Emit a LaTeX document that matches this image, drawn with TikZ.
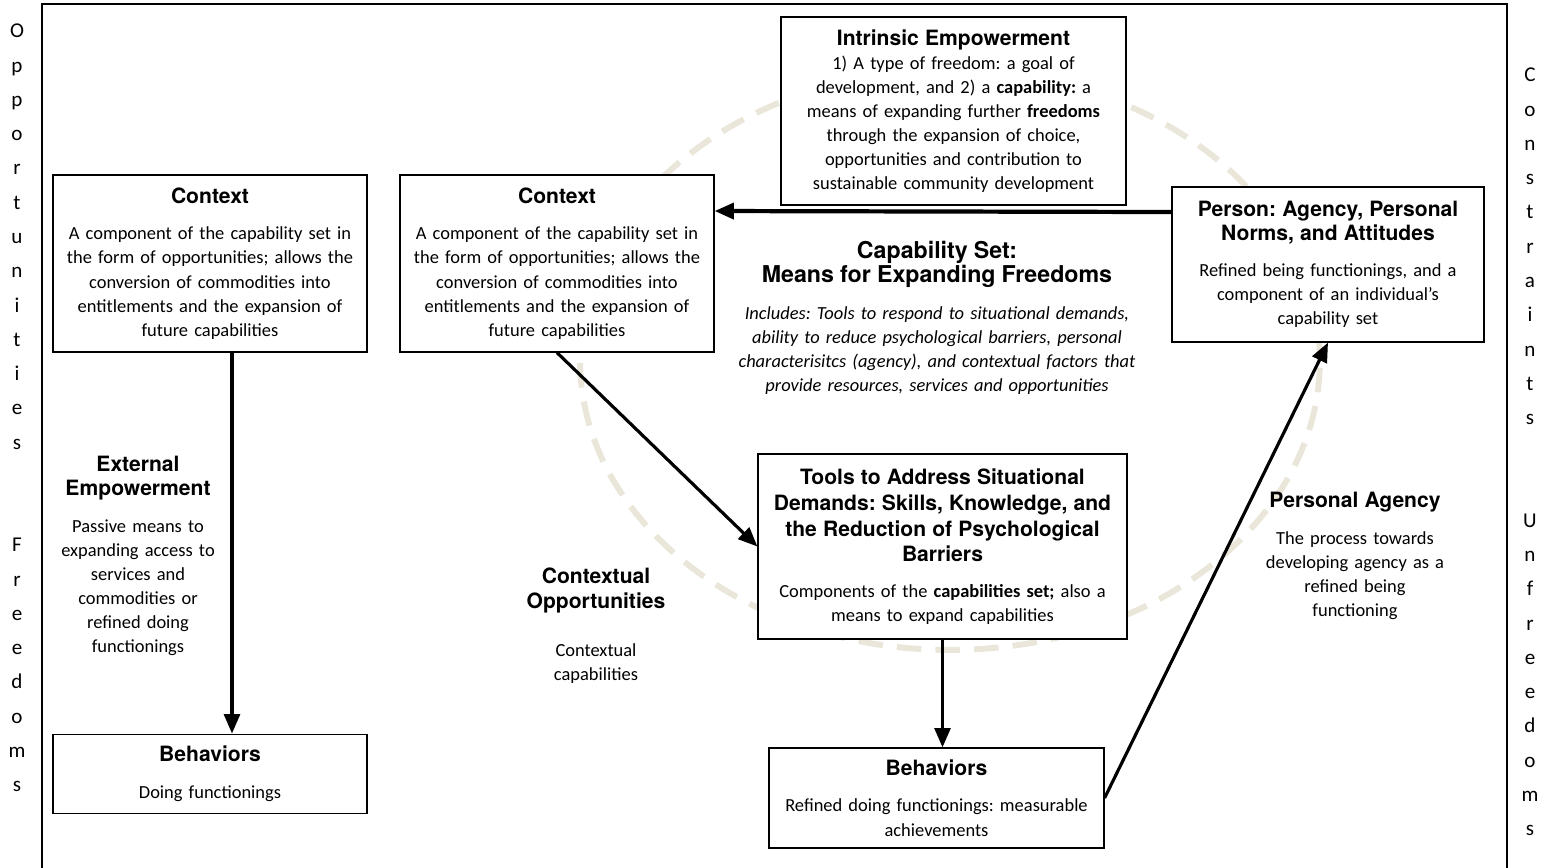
\documentclass[tikz,border=0pt]{standalone}
\usepackage{fontspec}
\setmainfont{Carlito}
\newfontfamily\hdfont{TeX Gyre Heros}
\usetikzlibrary{arrows.meta,positioning}
\definecolor{ringbeige}{RGB}{234,231,218}
\newcommand{\hd}[1]{{\hdfont\bfseries\fontsize{12}{15}\selectfont #1}}
\newcommand{\bighd}[1]{{\hdfont\bfseries\fontsize{13.2}{19.4}\selectfont #1}}
\frenchspacing

\begin{document}
\begin{tikzpicture}[x=0.02cm,y=-0.02cm,font=\fontsize{10.5}{13.7}\selectfont]
\tikzstyle{box}=[draw=black,line width=0.7pt,fill=white,align=center,inner sep=3pt]
\tikzstyle{free}=[align=center,inner sep=0pt]
\tikzstyle{sidetext}=[align=center,inner sep=0pt,font=\fontsize{12}{19.5}\selectfont]
\tikzstyle{arrow}=[line width=1.8pt,->,>={Triangle[length=11pt,width=9pt]}]
\useasboundingbox (0,0) rectangle (1553,867);
% frame and ring
\draw [line width=0.8pt] (42,4) rectangle (1507,900);
\draw [ringbeige,line width=3.4pt,dash pattern=on 14pt off 8pt] (950,360) ellipse [x radius=7.4cm,y radius=5.8cm];
% side words
\node [sidetext] (opp) at (17,408) {O\\p\\p\\o\\r\\t\\u\\n\\i\\t\\i\\e\\s\\[39pt]F\\r\\e\\e\\d\\o\\m\\s};
\node [sidetext] (con) at (1530,452) {C\\o\\n\\s\\t\\r\\a\\i\\n\\t\\s\\[39pt]U\\n\\f\\r\\e\\e\\d\\o\\m\\s};
% boxes
\node [box,text width=6cm,minimum width=6.28cm,minimum height=3.54cm] (ctxL) at (210,263.5)
  {\hd{Context}\\[7pt]A component of the capability set in\\the form of opportunities; allows the\\conversion of commodities into\\entitlements and the expansion of\\future capabilities};
\node [box,text width=6cm,minimum width=6.28cm,minimum height=1.58cm,below=7.62cm of ctxL] (behL)
  {\hd{Behaviors}\\[7pt]Doing functionings};
\node [box,text width=6cm,minimum width=6.28cm,minimum height=3.54cm] (ctxM) at (557,263.5)
  {\hd{Context}\\[7pt]A component of the capability set in\\the form of opportunities; allows the\\conversion of commodities into\\entitlements and the expansion of\\future capabilities};
\node [box,text width=6.6cm,minimum width=6.9cm,minimum height=3.76cm] (intr) at (953.5,111)
  {\hd{Intrinsic Empowerment}\\1) A type of freedom: a goal of\\development, and 2) a \textbf{capability:} a\\means of expanding further \textbf{freedoms}\\through the expansion of choice,\\opportunities and contribution to\\sustainable community development};
\node [box,text width=6cm,minimum width=6.24cm,minimum height=3.1cm] (person) at (1328,264.5)
  {\hd{Person: Agency, Personal\\Norms, and Attitudes}\\[7pt]Refined being functionings, and a\\component of an individual’s\\capability set};
\node [box,text width=7.1cm,minimum width=7.38cm,minimum height=3.7cm] (tools) at (942.5,546.5)
  {\hd{Tools to Address Situational\\Demands: Skills, Knowledge, and\\the Reduction of Psychological\\Barriers}\\[7pt]Components of the \textbf{capabilities set;} also a\\means to expand capabilities};
\node [box,text width=6.4cm,minimum width=6.7cm,minimum height=2cm] (behR) at (936.5,798)
  {\hd{Behaviors}\\[7pt]Refined doing functionings: measurable\\achievements};
% free labels
\node [free,text width=8.4cm] (capset) at (937,318)
  {\bighd{Capability Set:\\Means for Expanding Freedoms}\\[7pt]{\itshape Includes: Tools to respond to situational demands,\\ability to reduce psychological barriers, personal\\characterisitcs (agency), and contextual factors that\\provide resources, services and opportunities}};
\node [free,text width=4cm] (extemp) at (138,556)
  {\hd{External\\Empowerment}\\[7pt]Passive means to\\expanding access to\\services and\\commodities or\\refined doing\\functionings};
\node [free,text width=3.6cm] (ctxopp) at (596,626)
  {\hd{Contextual\\Opportunities}\\[14pt]Contextual\\capabilities};
\node [free,text width=4.5cm] (agency) at (1355,556)
  {\hd{Personal Agency}\\[7pt]The process towards\\developing agency as a\\refined being\\functioning};
% arrows
\draw [arrow] ([xshift=0.44cm]ctxL.south) -- ([xshift=0.44cm]behL.north);
\draw [arrow,line width=2.4pt] ([yshift=1.05cm]person.west) -- ([yshift=1.05cm]ctxM.east);
\draw [arrow] (ctxM.south) -- (tools.west);
\draw [arrow] (tools.south) -- (tools.south |- behR.north);
\draw [arrow] (behR.east) -- (person.south);
\end{tikzpicture}
\end{document}
